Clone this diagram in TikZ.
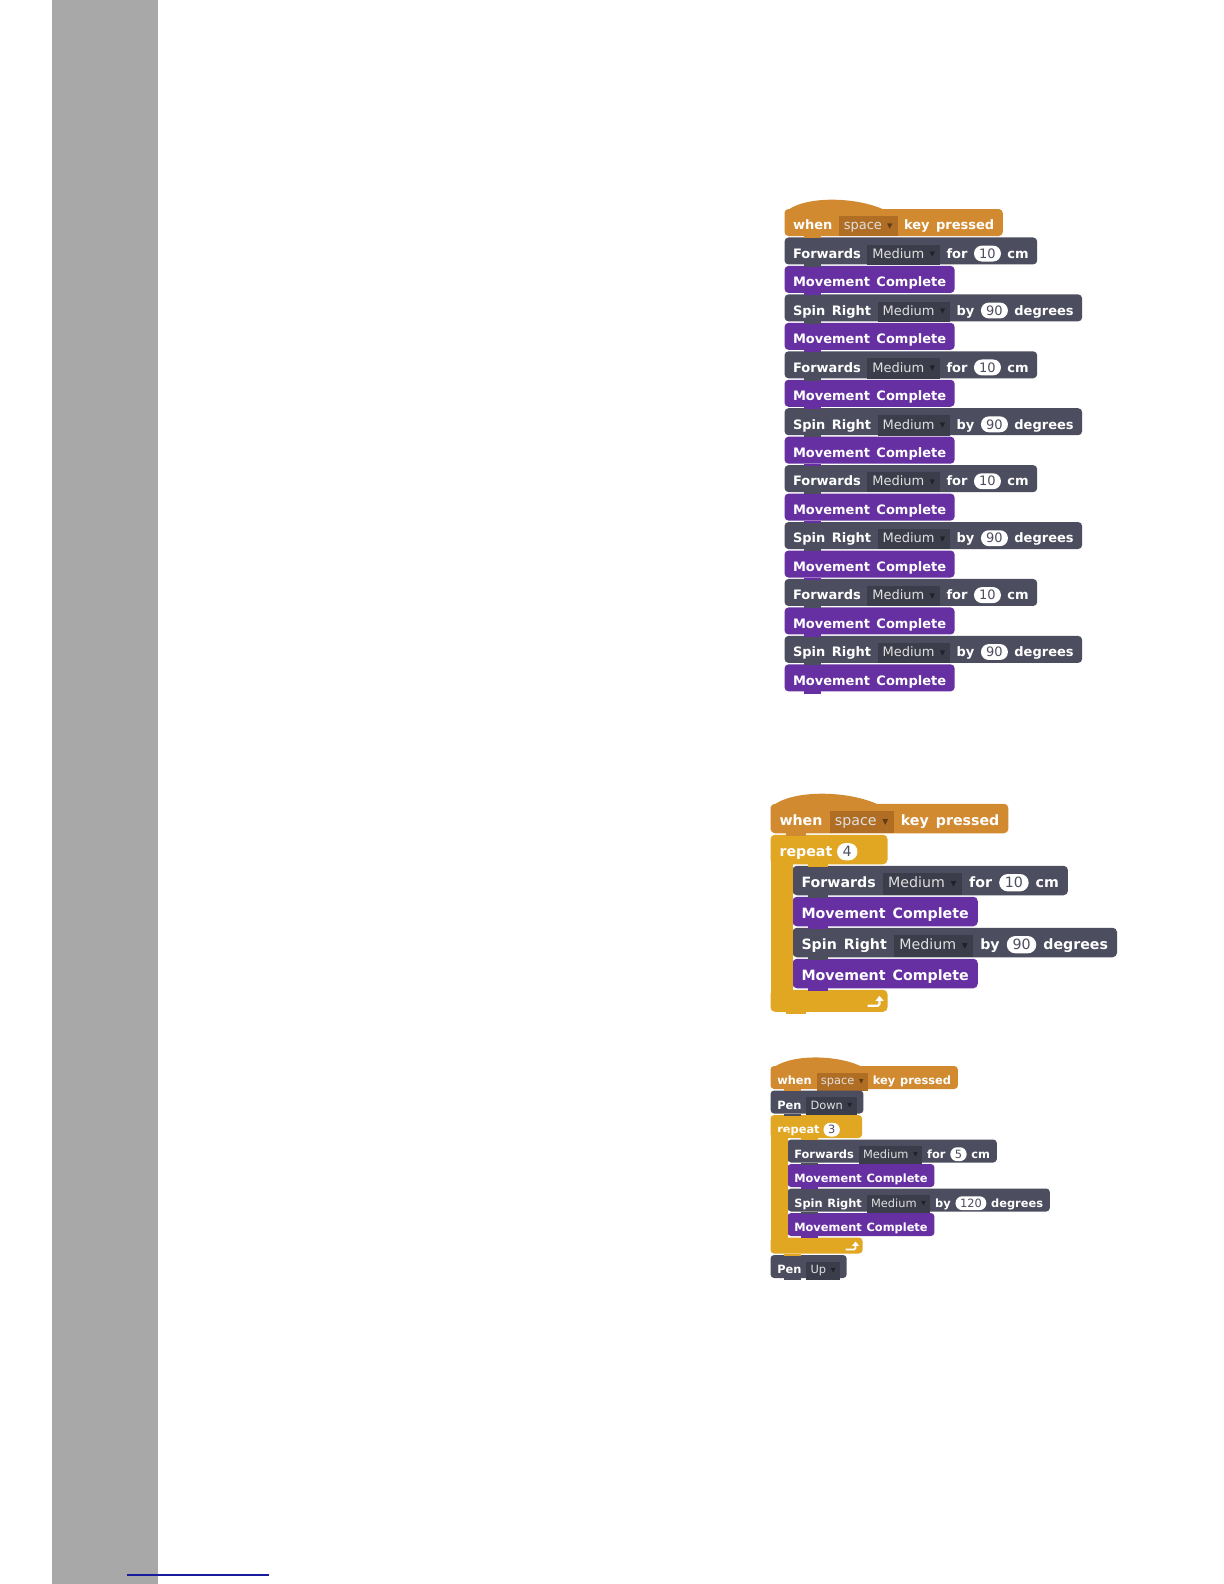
\documentclass[tikz,border=0pt]{standalone}
\usepackage{fontspec}
\usepackage{graphicx}
\setmainfont{DejaVu Sans}
\usetikzlibrary{arrows.meta,positioning}

\definecolor{evtorange}{HTML}{D28A30}
\definecolor{evtdrop}{HTML}{B06E24}
\definecolor{ctrlyellow}{HTML}{E1A622}
\definecolor{botgray}{HTML}{4C4D5E}
\definecolor{botdrop}{HTML}{3C3D4B}
\definecolor{morepurple}{HTML}{6730A2}
\definecolor{pagegray}{HTML}{A8A8A8}
\definecolor{linkblue}{HTML}{1A1A9E}

% dropdown field and number slot inside a block
\newcommand{\dropbox}[2]{%
  \tikz[baseline=(ddtext.base)]\node[fill=#1, text=white!88!black, font=\mdseries, draw=none,
    rounded corners=0pt, anchor=base, inner xsep=0.38em, inner ysep=0.3em, minimum height=0pt,
    minimum width=0pt, text width={}, text height=0.75em, text depth=0.2em] (ddtext)
    {#2\hspace{0.4em}\raisebox{0.12em}{\textcolor{#1!55!black}{\scalebox{0.55}{▼}}}};}
\newcommand{\numpill}[1]{%
  \tikz[baseline=(nptext.base)]\node[fill=white, text=botgray, font=\mdseries, draw=none,
    rounded corners=0.6em, anchor=base, inner xsep=0.4em, inner ysep=0.22em, minimum height=0pt,
    minimum width=1.3em, text width={}, text height=0.75em, text depth=0.03em] (nptext) {#1};}

\begin{document}
\begin{tikzpicture}[x=0.5pt, y=-0.5pt,
  sz/.style={},
  blk/.style={sz, anchor=west, text=white, outer sep=0pt},
  hat/.style={blk, fill=evtorange},
  gblk/.style={blk, fill=botgray},
  pblk/.style={blk, fill=morepurple},
  arm/.style={blk, fill=ctrlyellow, align=left}
]
\useasboundingbox (0,0) rectangle (1224,1584);
\fill[white] (0,0) rectangle (1224,1584);
\fill[pagegray] (52,0) rectangle (158,1584);
\draw[linkblue, line width=0.7pt] (127,1575) -- (269,1575);

% square, written out
\begin{scope}[sz/.style={font={\fontsize{6.5}{8}\selectfont\bfseries\spaceskip=0.5em\relax},
    minimum height=13.5pt, inner xsep=4.25pt, inner ysep=0pt, rounded corners=2pt,
    text height=0.73em, text depth=0em}]
\node[hat] (hat1) at (784.5,222.5) {when \dropbox{evtdrop}{space} key pressed};
\node[gblk, below=0.73pt of hat1.south west, anchor=north west] (fwd1a) {Forwards \dropbox{botdrop}{Medium} for \numpill{10} cm};
\node[pblk, below=0.73pt of fwd1a.south west, anchor=north west] (mov1a) {Movement Complete};
\node[gblk, below=0.73pt of mov1a.south west, anchor=north west] (spin1a) {Spin Right \dropbox{botdrop}{Medium} by \numpill{90} degrees};
\node[pblk, below=0.73pt of spin1a.south west, anchor=north west] (mov1b) {Movement Complete};
\node[gblk, below=0.73pt of mov1b.south west, anchor=north west] (fwd1b) {Forwards \dropbox{botdrop}{Medium} for \numpill{10} cm};
\node[pblk, below=0.73pt of fwd1b.south west, anchor=north west] (mov1c) {Movement Complete};
\node[gblk, below=0.73pt of mov1c.south west, anchor=north west] (spin1b) {Spin Right \dropbox{botdrop}{Medium} by \numpill{90} degrees};
\node[pblk, below=0.73pt of spin1b.south west, anchor=north west] (mov1d) {Movement Complete};
\node[gblk, below=0.73pt of mov1d.south west, anchor=north west] (fwd1c) {Forwards \dropbox{botdrop}{Medium} for \numpill{10} cm};
\node[pblk, below=0.73pt of fwd1c.south west, anchor=north west] (mov1e) {Movement Complete};
\node[gblk, below=0.73pt of mov1e.south west, anchor=north west] (spin1c) {Spin Right \dropbox{botdrop}{Medium} by \numpill{90} degrees};
\node[pblk, below=0.73pt of spin1c.south west, anchor=north west] (mov1f) {Movement Complete};
\node[gblk, below=0.73pt of mov1f.south west, anchor=north west] (fwd1d) {Forwards \dropbox{botdrop}{Medium} for \numpill{10} cm};
\node[pblk, below=0.73pt of fwd1d.south west, anchor=north west] (mov1g) {Movement Complete};
\node[gblk, below=0.73pt of mov1g.south west, anchor=north west] (spin1d) {Spin Right \dropbox{botdrop}{Medium} by \numpill{90} degrees};
\node[pblk, below=0.73pt of spin1d.south west, anchor=north west] (mov1h) {Movement Complete};
\fill[evtorange] ([yshift=-2pt]hat1.north west) .. controls ([xshift=8pt,yshift=6.5pt]hat1.north west)
  and ([xshift=34pt,yshift=6.5pt]hat1.north west) .. ([xshift=49pt]hat1.north west) -- cycle;
\foreach \blkname/\blkcol in {hat1/evtorange, fwd1a/botgray, mov1a/morepurple, spin1a/botgray,
    mov1b/morepurple, fwd1b/botgray, mov1c/morepurple, spin1b/botgray, mov1d/morepurple,
    fwd1c/botgray, mov1e/morepurple, spin1c/botgray, mov1f/morepurple, fwd1d/botgray,
    mov1g/morepurple, spin1d/botgray, mov1h/morepurple}
  \fill[\blkcol] ([xshift=9.5pt]\blkname.south west) rectangle ([xshift=18pt,yshift=-1.1pt]\blkname.south west);
\end{scope}

% square with repeat
\begin{scope}[sz/.style={font={\fontsize{7.1}{8.5}\selectfont\bfseries\spaceskip=0.5em\relax},
    minimum height=14.75pt, inner xsep=4.5pt, inner ysep=0pt, rounded corners=2.2pt,
    text height=0.73em, text depth=0em}]
\node[hat] (hat2) at (770.5,818.5) {when \dropbox{evtdrop}{space} key pressed};
\node[arm, text width=49.5pt, below=0.75pt of hat2.south west, anchor=north west] (rep2) {repeat \numpill{4}};
\node[gblk, below=0.75pt of rep2.south west, anchor=north west, xshift=11pt] (fwd2) {Forwards \dropbox{botdrop}{Medium} for \numpill{10} cm};
\node[pblk, below=0.75pt of fwd2.south west, anchor=north west] (mov2a) {Movement Complete};
\node[gblk, below=0.75pt of mov2a.south west, anchor=north west] (spin2) {Spin Right \dropbox{botdrop}{Medium} by \numpill{90} degrees};
\node[pblk, below=0.75pt of spin2.south west, anchor=north west] (mov2b) {Movement Complete};
\node[arm, minimum width=58.5pt, minimum height=11pt, below=0.75pt of mov2b.south west, anchor=north west, xshift=-11pt] (end2) {};
\fill[ctrlyellow] ([yshift=3pt]rep2.south west) rectangle ([xshift=11pt,yshift=-3pt]end2.north west);
\fill[evtorange] ([yshift=-2pt]hat2.north west) .. controls ([xshift=9pt,yshift=7pt]hat2.north west)
  and ([xshift=37pt,yshift=7pt]hat2.north west) .. ([xshift=53pt]hat2.north west) -- cycle;
\draw[white, line width=1.1pt, rounded corners=0.8pt, -{Triangle[length=2.6pt,width=4pt]}]
  ([xshift=-10pt,yshift=-2.5pt]end2.east) -- ++(6pt,0) -- ++(0,5pt);
\foreach \blkname/\blkcol in {hat2/evtorange, fwd2/botgray, mov2a/morepurple, spin2/botgray,
    mov2b/morepurple, end2/ctrlyellow}
  \fill[\blkcol] ([xshift=7.5pt]\blkname.south west) rectangle ([xshift=17.5pt,yshift=-1.2pt]\blkname.south west);
\fill[ctrlyellow] ([xshift=18.5pt]rep2.south west) rectangle ([xshift=28.5pt,yshift=-1.2pt]rep2.south west);
\end{scope}

% triangle with pen
\begin{scope}[sz/.style={font={\fontsize{5.7}{7}\selectfont\bfseries\spaceskip=0.42em\relax},
    minimum height=11.5pt, inner xsep=3.4pt, inner ysep=0pt, rounded corners=1.8pt,
    text height=0.73em, text depth=0em}]
\node[hat] (hat3) at (770.5,1077.5) {when \dropbox{evtdrop}{space} key pressed};
\node[gblk, below=0.75pt of hat3.south west, anchor=north west] (pen3a) {Pen \dropbox{botdrop}{Down}};
\node[arm, text width=39pt, below=0.75pt of pen3a.south west, anchor=north west] (rep3) {repeat \numpill{3}};
\node[gblk, below=0.75pt of rep3.south west, anchor=north west, xshift=8.5pt] (fwd3) {Forwards \dropbox{botdrop}{Medium} for \numpill{5} cm};
\node[pblk, below=0.75pt of fwd3.south west, anchor=north west] (mov3a) {Movement Complete};
\node[gblk, below=0.75pt of mov3a.south west, anchor=north west] (spin3) {Spin Right \dropbox{botdrop}{Medium} by \numpill{120} degrees};
\node[pblk, below=0.75pt of spin3.south west, anchor=north west] (mov3b) {Movement Complete};
\node[arm, minimum width=46pt, minimum height=8pt, below=0.75pt of mov3b.south west, anchor=north west, xshift=-8.5pt] (end3) {};
\node[gblk, below=0.75pt of end3.south west, anchor=north west] (pen3b) {Pen \dropbox{botdrop}{Up}};
\fill[ctrlyellow] ([yshift=3pt]rep3.south west) rectangle ([xshift=8.5pt,yshift=-3pt]end3.north west);
\fill[evtorange] ([yshift=-2pt]hat3.north west) .. controls ([xshift=8pt,yshift=6pt]hat3.north west)
  and ([xshift=32pt,yshift=6pt]hat3.north west) .. ([xshift=45pt]hat3.north west) -- cycle;
\draw[white, line width=0.9pt, rounded corners=0.7pt, -{Triangle[length=2.2pt,width=3.4pt]}]
  ([xshift=-8.5pt,yshift=-2pt]end3.east) -- ++(5pt,0) -- ++(0,4pt);
\foreach \blkname/\blkcol in {hat3/evtorange, pen3a/botgray, fwd3/botgray, mov3a/morepurple,
    spin3/botgray, mov3b/morepurple, end3/ctrlyellow, pen3b/botgray}
  \fill[\blkcol] ([xshift=6.5pt]\blkname.south west) rectangle ([xshift=15pt,yshift=-1pt]\blkname.south west);
\fill[ctrlyellow] ([xshift=15pt]rep3.south west) rectangle ([xshift=23.5pt,yshift=-1pt]rep3.south west);
\end{scope}
\end{tikzpicture}
\end{document}
